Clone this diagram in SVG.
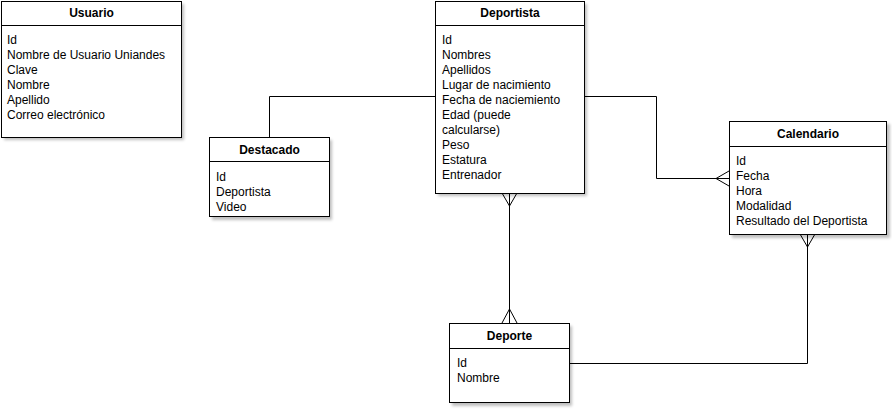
<svg xmlns="http://www.w3.org/2000/svg" width="892" height="409" viewBox="0 0 892 409">
<style>
.box{fill:#fff;stroke:#000;stroke-width:1}
.sh{fill:#000;opacity:0.25;filter:url(#blur)}
.div{stroke:#000;stroke-width:1}
.t{font-family:"Liberation Sans",Arial,sans-serif;font-size:12px;font-weight:bold;text-anchor:middle;fill:#000}
.a{font-family:"Liberation Sans",Arial,sans-serif;font-size:12px;fill:#000}
.c{fill:none;stroke:#000;stroke-width:1}
</style>
<defs>
<filter id="blur" x="-10%" y="-10%" width="120%" height="120%"><feGaussianBlur stdDeviation="1.5"/></filter>
</defs>
<rect width="892" height="409" fill="#fff"/>
<g id="connectors">
<polyline class="c" points="269.5,137 269.5,96.5 435,96.5"/>
<polyline class="c" points="584,96.5 656.5,96.5 656.5,178.5 729,178.5"/>
<polyline class="c" points="729,171 716,178.5 729,186"/>
<line class="c" x1="509.5" y1="193" x2="509.5" y2="323"/>
<polyline class="c" points="502,193 509.5,206 517,193"/>
<polyline class="c" points="502,323 509.5,309 517,323"/>
<polyline class="c" points="569,363.5 807.5,363.5 807.5,234"/>
<polyline class="c" points="800,234 807.5,247 815,234"/>
</g>
<g id="usuario">
<rect class="sh" x="4" y="4" width="180" height="136"/>
<rect class="box" x="1.5" y="1.5" width="180" height="136"/>
<line class="div" x1="1.5" y1="25.5" x2="181.5" y2="25.5"/>
<text class="t" x="91.5" y="17">Usuario</text>
<text class="a" x="7" y="44">Id</text>
<text class="a" x="7" y="59">Nombre de Usuario Uniandes</text>
<text class="a" x="7" y="74">Clave</text>
<text class="a" x="7" y="89">Nombre</text>
<text class="a" x="7" y="104">Apellido</text>
<text class="a" x="7" y="119">Correo electrónico</text>
</g>
<g id="deportista">
<rect class="sh" x="438" y="4" width="149" height="192"/>
<rect class="box" x="435.5" y="1.5" width="149" height="192"/>
<line class="div" x1="435.5" y1="25.5" x2="584.5" y2="25.5"/>
<text class="t" x="510" y="17">Deportista</text>
<text class="a" x="442" y="44">Id</text>
<text class="a" x="442" y="59">Nombres</text>
<text class="a" x="442" y="74">Apellidos</text>
<text class="a" x="442" y="89">Lugar de nacimiento</text>
<text class="a" x="442" y="104">Fecha de naciemiento</text>
<text class="a" x="442" y="119">Edad (puede</text>
<text class="a" x="442" y="134">calcularse)</text>
<text class="a" x="442" y="149">Peso</text>
<text class="a" x="442" y="164">Estatura</text>
<text class="a" x="442" y="179">Entrenador</text>
</g>
<g id="destacado">
<rect class="sh" x="212" y="140" width="120" height="80"/>
<rect class="box" x="209.5" y="137.5" width="120" height="79"/>
<line class="div" x1="209.5" y1="161.5" x2="329.5" y2="161.5"/>
<text class="t" x="269.5" y="154">Destacado</text>
<text class="a" x="216" y="181">Id</text>
<text class="a" x="216" y="196">Deportista</text>
<text class="a" x="216" y="211">Video</text>
</g>
<g id="calendario">
<rect class="sh" x="732" y="124" width="158" height="114"/>
<rect class="box" x="729.5" y="121.5" width="157" height="113"/>
<line class="div" x1="729.5" y1="146.5" x2="886.5" y2="146.5"/>
<text class="t" x="808" y="138">Calendario</text>
<text class="a" x="736" y="165">Id</text>
<text class="a" x="736" y="180">Fecha</text>
<text class="a" x="736" y="195">Hora</text>
<text class="a" x="736" y="210">Modalidad</text>
<text class="a" x="736" y="225">Resultado del Deportista</text>
</g>
<g id="deporte">
<rect class="sh" x="452" y="326" width="120" height="80"/>
<rect class="box" x="449.5" y="323.5" width="120" height="79"/>
<line class="div" x1="449.5" y1="348.5" x2="569.5" y2="348.5"/>
<text class="t" x="509.5" y="340">Deporte</text>
<text class="a" x="457" y="367">Id</text>
<text class="a" x="457" y="382">Nombre</text>
</g>
</svg>
